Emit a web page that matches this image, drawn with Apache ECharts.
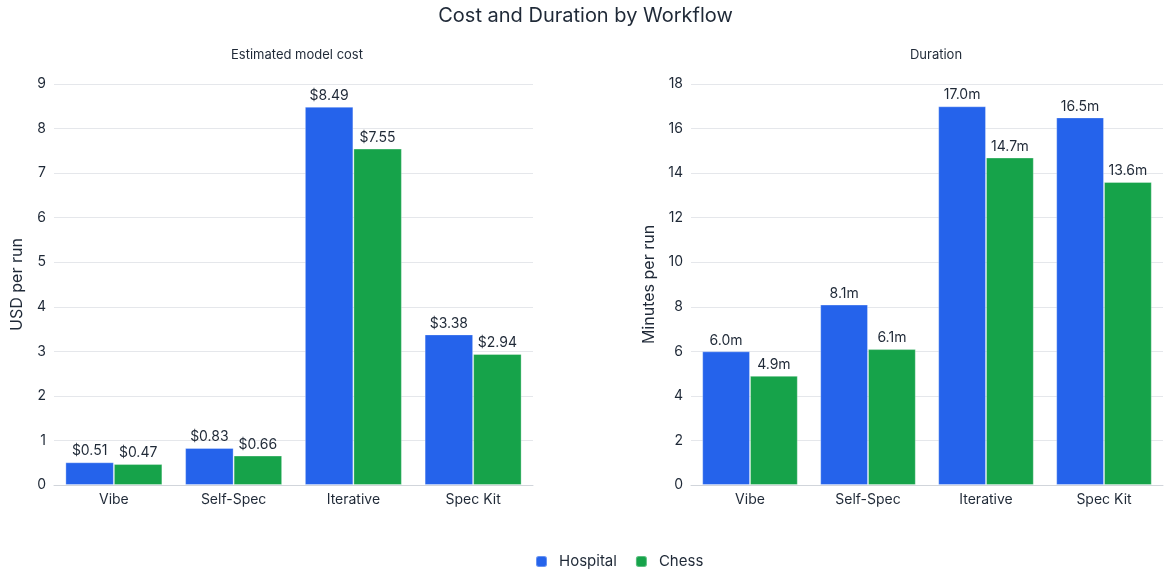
<!DOCTYPE html>
<html>
<head>
<meta charset="utf-8">
<script src="https://cdn.jsdelivr.net/npm/echarts@6/dist/echarts.min.js"></script>
<style>
  html, body { margin: 0; padding: 0; background: #fff; }
  #echarts { width: 1171px; height: 574px; }
</style>
</head>
<body>
<div id="echarts"></div>
<script>
var workflows = ['Vibe', 'Self-Spec', 'Iterative', 'Spec Kit'];
var costHospital = [0.51, 0.83, 8.49, 3.38];
var costChess = [0.47, 0.66, 7.55, 2.94];
var durHospital = [6.0, 8.1, 17.0, 16.5];
var durChess = [4.9, 6.1, 14.7, 13.6];

var blue = '#2563eb';
var green = '#16a34a';
var textColor = '#1f2937';
var font = 'Inter, "Noto Sans", sans-serif';

var myChart = echarts.init(document.getElementById('echarts'));

// 两个坐标系共用的轴样式
var catAxis = function (idx) {
    return {
        type: 'category',
        gridIndex: idx,
        data: workflows,
        axisTick: { show: false },
        axisLine: { lineStyle: { color: '#d1d5db' } },
        axisLabel: { color: textColor, fontSize: 14, fontFamily: font, margin: 8 }
    };
};
var valAxis = function (idx, name, max, interval, gap) {
    return {
        type: 'value',
        gridIndex: idx,
        min: 0,
        max: max,
        interval: interval,
        name: name,
        nameLocation: 'middle',
        nameGap: gap,
        nameTextStyle: { color: textColor, fontSize: 16, fontFamily: font },
        axisLabel: { color: textColor, fontSize: 14, fontFamily: font, margin: 8 },
        splitLine: { lineStyle: { color: '#e5e7eb' } }
    };
};
var bar = function (name, data, idx, color, fmt) {
    return {
        name: name,
        type: 'bar',
        xAxisIndex: idx,
        yAxisIndex: idx,
        data: data,
        barGap: '0%',
        barCategoryGap: '19%',
        itemStyle: { color: color, borderColor: 'rgba(255,255,255,0.3)', borderWidth: 1 },
        label: {
            show: true,
            position: 'top',
            distance: 4,
            color: textColor,
            fontSize: 14,
            fontFamily: font,
            formatter: fmt
        }
    };
};
var fmtCost = function (p) { return '$' + p.value.toFixed(2); };
var fmtDur = function (p) { return p.value.toFixed(1) + 'm'; };

option = {
    animation: false,
    textStyle: { fontFamily: font },
    title: [
        { text: 'Cost and Duration by Workflow', left: 'center', top: 1,
          textStyle: { fontSize: 20, fontWeight: 'normal', color: textColor, fontFamily: font } },
        { text: 'Estimated model cost', left: 292, top: 44, textAlign: 'center',
          textStyle: { fontSize: 13, fontWeight: 'normal', color: textColor, fontFamily: font } },
        { text: 'Duration', left: 931, top: 44, textAlign: 'center',
          textStyle: { fontSize: 13, fontWeight: 'normal', color: textColor, fontFamily: font } }
    ],
    legend: {
        data: ['Hospital', 'Chess'],
        bottom: 0,
        left: 530,
        itemWidth: 11,
        itemHeight: 11,
        itemGap: 18,
        textStyle: { color: textColor, fontSize: 15, fontFamily: font, padding: [0, 0, 0, 7] }
    },
    grid: [
        { left: 54, right: 638, top: 84, bottom: 89 },
        { left: 691, right: 8, top: 84, bottom: 89 }
    ],
    xAxis: [catAxis(0), catAxis(1)],
    yAxis: [valAxis(0, 'USD per run', 9, 1, 29), valAxis(1, 'Minutes per run', 18, 2, 34)],
    series: [
        bar('Hospital', costHospital, 0, blue, fmtCost),
        bar('Chess', costChess, 0, green, fmtCost),
        bar('Hospital', durHospital, 1, blue, fmtDur),
        bar('Chess', durChess, 1, green, fmtDur)
    ]
};
myChart.setOption(option);
</script>
</body>
</html>
